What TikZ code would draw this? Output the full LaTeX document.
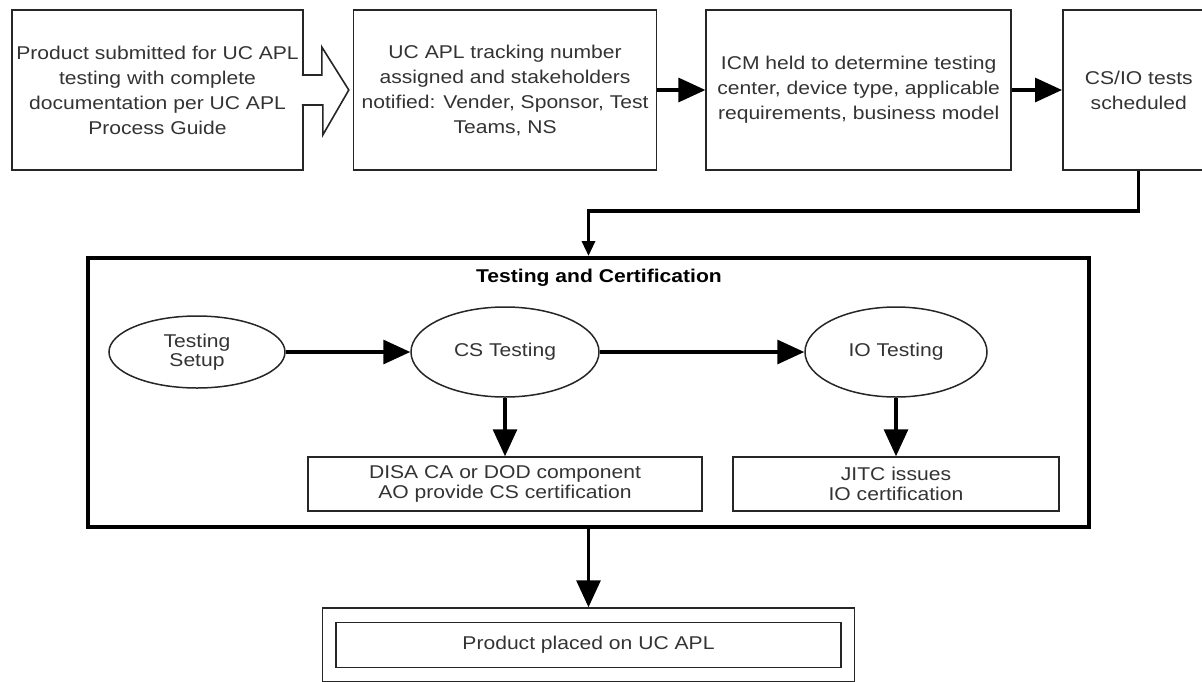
\documentclass[tikz,border=0pt]{standalone}
\usepackage{fontspec}
\setmainfont[FakeStretch=1.14]{Liberation Sans}
\usetikzlibrary{positioning, shapes.geometric, arrows.meta}

\tikzset{
  stagebox/.style={rectangle, draw=black!85, line width=1.6pt, text=black!80,
    align=center, minimum height=160pt, inner sep=0pt},
  testoval/.style={ellipse, draw=black!85, line width=1.5pt, text=black!80,
    align=center, inner sep=0pt},
  certbox/.style={rectangle, draw=black!85, line width=1.5pt, text=black!80,
    align=center, minimum height=54pt, inner sep=0pt,
    font=\fontsize{18.5}{20}\selectfont},
  flow/.style={line width=3.2pt, -{Triangle[length=27pt,width=24pt]}},
}

\begin{document}
\begin{tikzpicture}[x=1pt, y=-1pt, font=\fontsize{18.5}{25}\selectfont]
  \useasboundingbox (0,0) rectangle (1202,681);

  % top row
  \node[stagebox, minimum width=291pt] (submit) at (157.5,90)
    {Product submitted for UC APL\\testing with complete\\documentation per UC APL\\Process Guide};
  \node[
  right=49pt of submit,
  stagebox,
  minimum width=303pt] (track)
    {UC APL tracking number\\assigned and stakeholders\\notified: Vender, Sponsor, Test\\Teams, NS};
  \node[
  right=48pt of track,
  stagebox,
  minimum width=305pt] (icm)
    {ICM held to determine testing\\center, device type, applicable\\requirements, business model};
  \node[
  right=50pt of icm,
  stagebox,
  minimum width=152pt] (sched) {CS/IO tests\\scheduled};

  % block arrow
  \draw[line width=1.6pt, draw=black!85, fill=white]
    ([yshift=15pt,xshift=-2pt]submit.east) -- ++(20pt,0pt) -- ++(0pt,28pt)
    -- ([xshift=-4pt]track.west) -- ++(-26pt,-45pt) -- ++(0pt,30pt)
    -- ([yshift=-15pt,xshift=-2pt]submit.east);

  \draw[flow] (track)--(icm);
  \draw[flow] (icm)--(sched);

  % testing and certification
  \node[draw, line width=4pt, minimum width=1001pt, minimum height=269pt] (frame) at (588.5,392.5) {};
  \node[font=\fontsize{18.5}{25}\selectfont\bfseries] (title) at (599,278) {Testing and Certification};

  \coordinate (turn) at (588.5,211);
  \draw[line width=3.2pt, -{Triangle[length=15pt,width=13pt]}] (sched.south) |- (turn) -- (frame.north);

  \node[testoval, minimum width=176pt, minimum height=72pt,
    font=\fontsize{18.5}{19}\selectfont] (setup) at (197,352) {Testing\\Setup};
  \node[testoval, minimum width=188pt, minimum height=90pt] (cs) at (505,352) {CS Testing};
  \node[testoval, minimum width=182pt, minimum height=90pt] (io) at (896,352) {IO Testing};

  \node[certbox, minimum width=394pt] (disa) at (505,484)
    {DISA CA or DOD component\\AO provide CS certification};
  \node[certbox, minimum width=326pt] (jitc) at (896,484)
    {JITC issues\\IO certification};

  \draw[flow] (setup)--(cs);
  \draw[flow] (cs)--(io);
  \draw[flow] (cs)--(disa);
  \draw[flow] (io)--(jitc);

  % result
  \node[draw=black!85, line width=1.5pt, minimum width=532pt, minimum height=74pt] (placedframe) at (588.5,645) {};
  \node[certbox, minimum width=505pt, minimum height=45pt] (placed) at (placedframe) {Product placed on UC APL};

  \draw[flow] (frame.south)--(placedframe.north);
\end{tikzpicture}
\end{document}
